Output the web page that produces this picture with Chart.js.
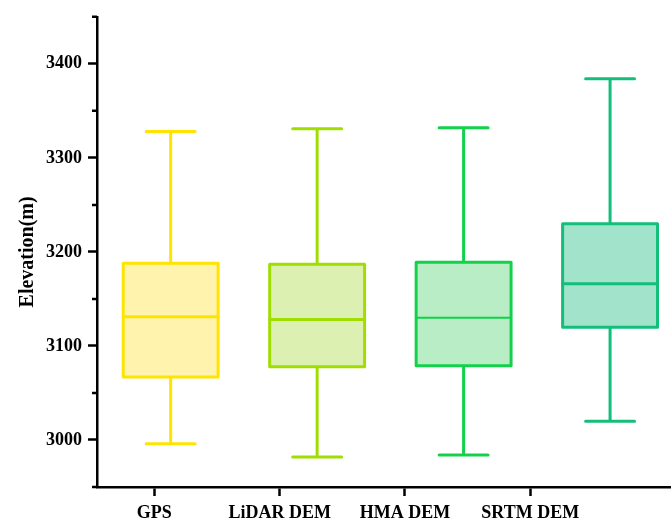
<!DOCTYPE html>
<html><head><meta charset="utf-8">
<script src="https://cdn.jsdelivr.net/npm/chart.js@4"></script>
<style>html,body{margin:0;padding:0;background:#fff}#wrap{width:671px;height:522px;position:relative}</style>
</head><body><div id="wrap"><canvas id="c"></canvas></div>
<script>
// ---- data ----
const categories = ['GPS', 'LiDAR DEM', 'HMA DEM', 'SRTM DEM'];
const whiskerLow  = [2996, 2982, 2984, 3020];
const q1          = [3067, 3078, 3079, 3120];
const median      = [3131, 3128, 3130, 3166];
const q3          = [3188, 3187, 3189, 3230];
const whiskerHigh = [3328, 3331, 3332, 3384];
const yMajorTicks = [3000, 3100, 3200, 3300, 3400];
const yMinorTicks = [2950, 3050, 3150, 3250, 3350, 3450];

// ---- styles ----
const strokeColors = ['#FFE400', '#9FDE00', '#12D14B', '#13BE7B'];
const fillColors   = ['#FFF3AD', '#DCF0B2', '#B9EDC5', '#A2E3CB'];
const medianWidths = [3, 3, 2, 3];
const BOX_HALF = 0.324, CAP_HALF = 0.167;
const FONT = '"Liberation Serif","Times New Roman",serif';

const boxPlugin = {
  id: 'boxes',
  afterDatasetsDraw(chart) {
    const ctx = chart.ctx, xs = chart.scales.xData, ys = chart.scales.y;
    categories.forEach((c, i) => {
      const pos = i + 1;
      const xc = xs.getPixelForValue(pos);
      const xl = xs.getPixelForValue(pos - BOX_HALF), xr = xs.getPixelForValue(pos + BOX_HALF);
      const cl = xs.getPixelForValue(pos - CAP_HALF), cr = xs.getPixelForValue(pos + CAP_HALF);
      const yLo = ys.getPixelForValue(whiskerLow[i]), yHi = ys.getPixelForValue(whiskerHigh[i]);
      const yQ1 = ys.getPixelForValue(q1[i]), yQ3 = ys.getPixelForValue(q3[i]);
      const yMed = ys.getPixelForValue(median[i]);
      ctx.save();
      ctx.strokeStyle = strokeColors[i];
      ctx.lineWidth = 3;
      ctx.lineCap = 'round';
      ctx.beginPath();
      ctx.moveTo(xc, yQ3); ctx.lineTo(xc, yHi);
      ctx.moveTo(cl, yHi); ctx.lineTo(cr, yHi);
      ctx.moveTo(xc, yQ1); ctx.lineTo(xc, yLo);
      ctx.moveTo(cl, yLo); ctx.lineTo(cr, yLo);
      ctx.stroke();
      ctx.fillStyle = fillColors[i];
      ctx.fillRect(xl, yQ3, xr - xl, yQ1 - yQ3);
      ctx.lineJoin = 'round';
      ctx.strokeRect(xl, yQ3, xr - xl, yQ1 - yQ3);
      ctx.lineWidth = medianWidths[i];
      ctx.beginPath();
      ctx.moveTo(xl, yMed); ctx.lineTo(xr, yMed);
      ctx.stroke();
      ctx.restore();
    });
    // minor ticks on y axis
    const left = chart.chartArea.left;
    ctx.save();
    ctx.strokeStyle = '#000';
    ctx.lineWidth = 2.5;
    ctx.beginPath();
    yMinorTicks.forEach(v => {
      const y = ys.getPixelForValue(v);
      ctx.moveTo(left - 5, y); ctx.lineTo(left, y);
    });
    ctx.stroke();
    ctx.restore();
  }
};

new Chart(document.getElementById('c'), {
  type: 'scatter',
  data: { datasets: [{ data: [], xAxisID: 'xData', yAxisID: 'y' }] },
  options: {
    responsive: true,
    maintainAspectRatio: false,
    animation: false,
    events: [],
    layout: { padding: { top: 15, left: 0, right: 0, bottom: 0 } },
    plugins: { legend: { display: false }, tooltip: { enabled: false } },
    scales: {
      xData: { type: 'linear', display: false, min: 0.497, max: 4.416 },
      x: {
        type: 'linear', position: 'bottom', min: 0.5427, max: 5.123,
        afterBuildTicks(s) { s.ticks = categories.map((c, i) => ({ value: i + 1 })); },
        afterFit(s) { s.height = 35; },
        ticks: {
          callback: v => categories[v - 1] ?? '',
          font: { family: FONT, size: 18, weight: 'bold' }, color: '#000',
          padding: 7, maxRotation: 0, autoSkip: false
        },
        grid: { drawOnChartArea: false, drawTicks: true, tickLength: 9, tickWidth: 2.5, tickColor: '#000' },
        border: { display: true, color: '#000', width: 2.5 }
      },
      y: {
        type: 'linear', min: 2950, max: 3450,
        afterBuildTicks(s) { s.ticks = yMajorTicks.map(v => ({ value: v })); },
        afterFit(s) { s.width = 97; },
        ticks: {
          callback: v => String(v),
          font: { family: FONT, size: 18, weight: 'bold' }, color: '#000', padding: 6
        },
        grid: { drawOnChartArea: false, drawTicks: true, tickLength: 9, tickWidth: 2.5, tickColor: '#000' },
        border: { display: true, color: '#000', width: 2.5 },
        title: {
          display: true, text: 'Elevation(m)', color: '#000',
          font: { family: FONT, size: 20, weight: 'bold', lineHeight: 1.2 },
          padding: { top: 16, bottom: 0 }
        }
      }
    }
  },
  plugins: [boxPlugin]
});
</script></body></html>
